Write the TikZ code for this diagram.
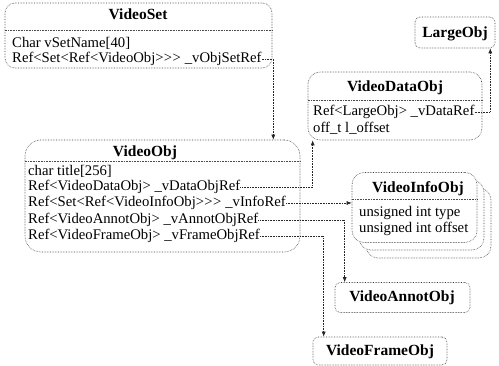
\documentclass[tikz,border=0pt]{standalone}
\usepackage{fontspec}
\setmainfont{Liberation Serif}[Ligatures=ResetAll]
\usetikzlibrary{arrows.meta, positioning, calc}
\newcommand{\gtsign}{>\kern0.3pt}

\begin{document}
\begin{tikzpicture}[x=1pt, y=-1pt,
    classbox/.style={draw=black!75, densely dotted, line width=0.6pt, rounded corners=#1, fill=white, inner sep=0pt},
    classbox/.default=10pt,
    title/.style={font=\fontsize{15.5}{18}\selectfont\bfseries, inner sep=0pt},
    attr/.style={font=\fontsize{14.7}{16}\selectfont, anchor=west, inner sep=0pt},
    sepline/.style={draw=black!70, densely dotted, line width=0.6pt},
    ref/.style={-{Latex[length=5pt, width=4pt]}, densely dotted, line width=0.6pt, black!85}]

    \useasboundingbox (0,0) rectangle (499,366);

    % VideoSet
    \node[classbox, minimum width=267pt, minimum height=65pt] (vset) at (138.5,35.5) {};
    \node[title] (vsettitle) at (138,14) {VideoSet};
    \draw[sepline] (vset.west |- 0,30) -- (vset.east |- 0,30);
    \node[attr] (vsetname) at (12,43) {Char vSetName[40]};
    \node[attr] (vsetref) at (12,59) {Ref<Set<Ref<VideoObj\gtsign\gtsign\gtsign\ \_vObjSetRef};

    % LargeObj
    \node[classbox=5pt, minimum width=80pt, minimum height=31pt] (large) at (455,32.5) {};
    \node[title] (largetitle) at (455,34) {LargeObj};

    % VideoDataObj
    \node[classbox=12pt, minimum width=174pt, minimum height=68pt] (vdata) at (395,106) {};
    \node[title] (vdatatitle) at (395,88) {VideoDataObj};
    \draw[sepline] (vdata.west |- 0,100) -- (vdata.east |- 0,100);
    \node[attr] (vdataref) at (313,112) {Ref<LargeObj> \_vDataRef};
    \node[attr] (vdataoff) at (313,128) {off\_t l\_offset};

    % VideoObj
    \node[classbox=16pt, minimum width=275pt, minimum height=112pt] (vobj) at (162.5,196) {};
    \node[title] (vobjtitle) at (145,153) {VideoObj};
    \draw[sepline] (vobj.west |- 0,161) -- (vobj.east |- 0,161);
    \node[attr] (vobjtitleattr) at (28,171) {char title[256]};
    \node[attr] (vdataobjref) at (28,187) {Ref<VideoDataObj> \_vDataObjRef};
    \node[attr] (vinforef) at (28,203) {Ref<Set<Ref<VideoInfoObj\gtsign\gtsign\gtsign\ \_vInfoRef};
    \node[attr] (vannotref) at (28,220) {Ref<VideoAnnotObj> \_vAnnotObjRef};
    \node[attr] (vframeref) at (28,236) {Ref<VideoFrameObj> \_vFrameObjRef};

    % VideoInfoObj (stacked copies)
    \node[classbox=12pt, minimum width=125pt, minimum height=70pt] (vinfo3) at (428.5,223) {};
    \node[classbox=12pt, minimum width=125pt, minimum height=70pt] (vinfo2) at (421.5,215) {};
    \node[classbox=12pt, minimum width=125pt, minimum height=70pt] (vinfo) at (414.5,207.5) {};
    \node[title] (vinfotitle) at (418,189) {VideoInfoObj};
    \draw[sepline] (vinfo.west |- 0,199) -- (vinfo.east |- 0,199);
    \node[attr] (vinfotype) at (359,213) {unsigned int type};
    \node[attr] (vinfooff) at (359,229) {unsigned int offset};

    % VideoAnnotObj and VideoFrameObj
    \node[classbox=5pt, minimum width=135pt, minimum height=30pt] (vannot) at (402.5,297.5) {};
    \node[title] (vannottitle) at (402,298) {VideoAnnotObj};
    \node[classbox=5pt, minimum width=134pt, minimum height=28pt] (vframe) at (380,351) {};
    \node[title] (vframetitle) at (380,352) {VideoFrameObj};

    % References
    \draw[ref] (vsetref.east) -| ($(vobj.north east)+(-27,0)$);
    \draw[ref] (vdataobjref.east) -| ($(vdata.south west)+(5,0)$);
    \draw[ref] (vinforef.east) -- (vinforef.east -| vinfo.west);
    \draw[ref] (vannotref.east) -| ($(vannot.north west)+(10,0)$);
    \draw[ref] (vframeref.east) -| ($(vframe.north west)+(11,0)$);
    \draw[ref] (vdataref.east) -| ($(large.south east)+(-5,0)$);
\end{tikzpicture}
\end{document}
